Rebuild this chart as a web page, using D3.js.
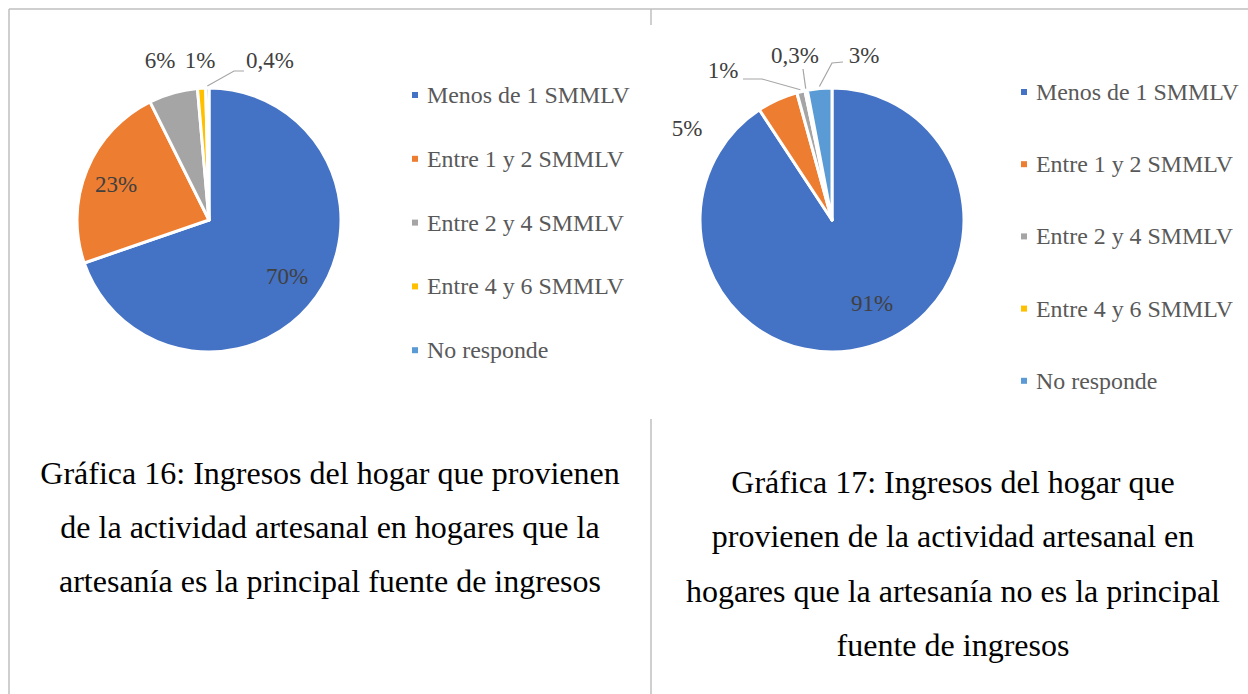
<!DOCTYPE html>
<html><head><meta charset="utf-8">
<script src="https://cdn.jsdelivr.net/npm/d3@7/dist/d3.min.js"></script>
<style>
html,body{margin:0;padding:0;background:#fff;}
svg{display:block;}
text{font-family:"Liberation Serif","Times New Roman",serif;}
</style></head>
<body>
<svg id="chart" width="1248" height="694"></svg>
<script>
// ---- data ----
const categories = ["Menos de 1 SMMLV","Entre 1 y 2 SMMLV","Entre 2 y 4 SMMLV","Entre 4 y 6 SMMLV","No responde"];
const colors = ["#4472C4","#ED7D31","#A5A5A5","#FFC000","#5B9BD5"];
const valuesChart16 = [70, 23, 6, 1, 0.4];
const valuesChart17 = [91, 5, 1, 0.3, 3];
const caption16 = ["Gráfica 16: Ingresos del hogar que provienen",
                   "de la actividad artesanal en hogares que la",
                   "artesanía es la principal fuente de ingresos"];
const caption17 = ["Gráfica 17: Ingresos del hogar que",
                   "provienen de la actividad artesanal en",
                   "hogares que la artesanía no es la principal",
                   "fuente de ingresos"];

// ---- layout (positions / styles) ----
const layout16 = {
  cx: 209, cy: 220, r: 132,
  legend: {x: 412, y: 95, step: 63.8},
  labels: [
    {dx: 78, dy: 64},
    {dx: -93, dy: -28},
    {dx: -49, dy: -152},
    {dx: -9, dy: -152},
    {dx: 61, dy: -152, leader: [[35,-149],[25,-149]]}
  ],
  caption: {x: 330, y: 484, step: 54}
};
const layout17 = {
  cx: 832, cy: 220, r: 132,
  legend: {x: 1021, y: 92, step: 72.2},
  labels: [
    {dx: 40, dy: 91},
    {dx: -145, dy: -84},
    {dx: -109, dy: -142, leader: [[-89,-141],[-70,-141]]},
    {dx: -37, dy: -157, leader: [[-29,-151]]},
    {dx: 32, dy: -157, leader: [[11,-158],[0,-157]]}
  ],
  caption: {x: 953, y: 493, step: 54.3}
};

const svg = d3.select("#chart");
const fmt = v => String(v).replace(".", ",") + "%";

// table borders
const border = "#bfbfbf";
svg.append("line").attr("x1",9).attr("x2",1248).attr("y1",9).attr("y2",9).attr("stroke",border).attr("stroke-width",1.5);
svg.append("line").attr("x1",9).attr("x2",9).attr("y1",9).attr("y2",694).attr("stroke",border).attr("stroke-width",1.5);
svg.append("line").attr("x1",651).attr("x2",651).attr("y1",9).attr("y2",25).attr("stroke",border).attr("stroke-width",1.5);
svg.append("line").attr("x1",651).attr("x2",651).attr("y1",419).attr("y2",694).attr("stroke",border).attr("stroke-width",1.5);

function drawPie(values, L, caption) {
  const g = svg.append("g").attr("transform", `translate(${L.cx},${L.cy})`);
  const pie = d3.pie().sort(null).value(d => d).startAngle(0).endAngle(2*Math.PI);
  const arcs = pie(values);
  const arc = d3.arc().innerRadius(0).outerRadius(L.r);
  const edge = d3.arc().innerRadius(L.r + 2).outerRadius(L.r + 2);
  g.selectAll("path.slice").data(arcs).join("path")
    .attr("class","slice")
    .attr("d", arc)
    .attr("fill", (d,i) => colors[i])
    .attr("stroke", "#fff").attr("stroke-width", 3).attr("stroke-linejoin","round");

  // leader lines
  arcs.forEach((d,i) => {
    const lab = L.labels[i];
    if (!lab || !lab.leader) return;
    const end = edge.centroid(d);
    const pts = lab.leader.concat([end]);
    g.append("path")
      .attr("d", d3.line()(pts))
      .attr("fill","none").attr("stroke","#a6a6a6").attr("stroke-width",1.2);
  });

  // data labels
  g.selectAll("text.lbl").data(arcs).join("text")
    .attr("class","lbl")
    .attr("x", (d,i) => L.labels[i].dx)
    .attr("y", (d,i) => L.labels[i].dy)
    .attr("text-anchor","middle")
    .attr("font-size", 23)
    .attr("fill","#404040")
    .text(d => fmt(d.data));

  // legend
  const lg = svg.append("g");
  categories.forEach((c,i) => {
    const y = L.legend.y + i * L.legend.step;
    lg.append("rect").attr("x", L.legend.x).attr("y", y - 3).attr("width", 6).attr("height", 6).attr("fill", colors[i]);
    lg.append("text").attr("x", L.legend.x + 15).attr("y", y + 8)
      .attr("font-size", 23.9).attr("fill","#595959").text(c);
  });

  // caption
  caption.forEach((line,i) => {
    svg.append("text").attr("x", L.caption.x).attr("y", L.caption.y + i * L.caption.step)
      .attr("text-anchor","middle").attr("font-size", 32).attr("fill","#000").text(line);
  });
}

drawPie(valuesChart16, layout16, caption16);
drawPie(valuesChart17, layout17, caption17);
</script>
</body></html>
